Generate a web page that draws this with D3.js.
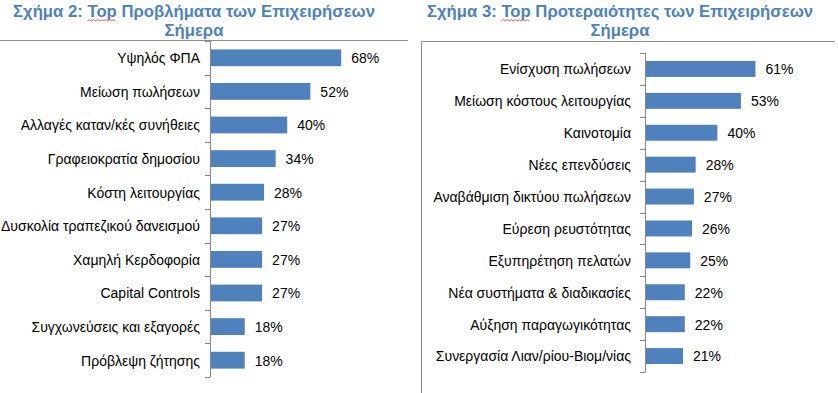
<!DOCTYPE html>
<html>
<head>
<meta charset="utf-8">
<script src="https://cdn.jsdelivr.net/npm/d3@7"></script>
<style>
  html, body { margin: 0; padding: 0; background: #fff; }
  svg { display: block; font-family: "Liberation Sans", Arial, sans-serif; }
</style>
</head>
<body>
<svg id="chart" width="838" height="393"></svg>
<script>
// ─── Data ───────────────────────────────────────────────────
const problemLabels = [
  "Υψηλός ΦΠΑ", "Μείωση πωλήσεων", "Αλλαγές καταν/κές συνήθειες",
  "Γραφειοκρατία δημοσίου", "Κόστη λειτουργίας", "Δυσκολία τραπεζικού δανεισμού",
  "Χαμηλή Κερδοφορία", "Capital Controls", "Συγχωνεύσεις και εξαγορές",
  "Πρόβλεψη ζήτησης"
];
const problemValues = [68, 52, 40, 34, 28, 27, 27, 27, 18, 18];

const priorityLabels = [
  "Ενίσχυση πωλήσεων", "Μείωση κόστους λειτουργίας", "Καινοτομία",
  "Νέες επενδύσεις", "Αναβάθμιση δικτύου πωλήσεων", "Εύρεση ρευστότητας",
  "Εξυπηρέτηση πελατών", "Νέα συστήματα & διαδικασίες", "Αύξηση παραγωγικότητας",
  "Συνεργασία Λιαν/ρίου-Βιομ/νίας"
];
const priorityValues = [61, 53, 40, 28, 27, 26, 25, 22, 22, 21];

const titleLeft  = ["Σχήμα 2: ", "Top", " Προβλήματα των Επιχειρήσεων", "Σήμερα"];
const titleRight = ["Σχήμα 3: ", "Top", " Προτεραιότητες των Επιχειρήσεων", "Σήμερα"];

// ─── Styles ────────────────────────────────────────────────
const barColor = "#4F81BD";
const titleColor = "#4F81BD";
const gridGrey = "#868686";
const frameGrey = "#8c8c8c";
const stretch = 1.1;   // label text in the picture is slightly taller than wide

const svg = d3.select("#chart");

// ─── Frames ────────────────────────────────────────────────
svg.append("line")
  .attr("x1", 0).attr("x2", 408).attr("y1", 40.5).attr("y2", 40.5)
  .attr("stroke", frameGrey).attr("stroke-width", 1);
svg.append("path")
  .attr("d", "M421.5,393 V41.5 H835")
  .attr("fill", "none").attr("stroke", frameGrey).attr("stroke-width", 1);

// ─── Titles ────────────────────────────────────────────────
function drawTitle(parts, cx) {
  const t = svg.append("text")
    .attr("x", cx).attr("y", 17)
    .attr("text-anchor", "middle")
    .attr("fill", titleColor)
    .style("font-weight", "bold")
    .style("font-size", "16.7px");
  t.append("tspan").text(parts[0]);
  t.append("tspan").text(parts[1]);
  t.append("tspan").text(parts[2]);

  // red wavy spell-check underline under "Top"
  const node = t.node();
  const start = parts[0].length;
  const x0 = node.getStartPositionOfChar(start).x;
  const w = node.getSubStringLength(start, parts[1].length);
  const pts = d3.range(0, Math.floor(w / 2) + 1).map(i => [x0 + i * 2, 20.5 + (i % 2 ? -0.8 : 0.4)]);
  svg.append("path")
    .attr("d", d3.line()(pts))
    .attr("fill", "none")
    .attr("stroke", "#e03030")
    .attr("stroke-width", 0.8);

  svg.append("text")
    .attr("x", cx).attr("y", 36)
    .attr("text-anchor", "middle")
    .attr("fill", titleColor)
    .style("font-weight", "bold")
    .style("font-size", "16.7px")
    .text(parts[3]);
}
drawTitle(titleLeft, 194);
drawTitle(titleRight, 620);

// ─── Bar chart helper ──────────────────────────────────────
function drawBars(labels, values, opt) {
  const g = svg.append("g");

  const y = d3.scaleBand()
    .domain(labels)
    .range([opt.top, opt.bottom])
    .paddingInner(0.5)
    .paddingOuter(0.25);

  const x = d3.scaleLinear()
    .domain([0, 100])
    .range([opt.axisX, opt.axisX + opt.pxPer100]);

  const data = labels.map((l, i) => ({ label: l, value: values[i] }));
  const cy = d => y(d.label) + y.bandwidth() / 2;

  // bars
  g.selectAll("rect")
    .data(data)
    .join("rect")
    .attr("x", x(0))
    .attr("y", d => y(d.label))
    .attr("width", d => x(d.value) - x(0))
    .attr("height", y.bandwidth())
    .attr("fill", barColor);

  // axis line and ticks on band edges
  g.append("line")
    .attr("x1", opt.axisX + 0.5).attr("x2", opt.axisX + 0.5)
    .attr("y1", opt.top).attr("y2", opt.bottom)
    .attr("stroke", gridGrey);
  const edges = d3.range(labels.length + 1).map(i => opt.top + i * y.step());
  g.selectAll("line.tick")
    .data(edges)
    .join("line")
    .attr("class", "tick")
    .attr("x1", opt.axisX - 5).attr("x2", opt.axisX)
    .attr("y1", d => Math.round(d) + 0.5).attr("y2", d => Math.round(d) + 0.5)
    .attr("stroke", gridGrey);

  // category labels
  g.selectAll("text.cat")
    .data(data)
    .join("text")
    .attr("class", "cat")
    .attr("transform", d => `translate(${opt.axisX - opt.labelGap},${cy(d)}) scale(1,${stretch})`)
    .attr("dy", "0.35em")
    .attr("text-anchor", "end")
    .attr("fill", "#000")
    .style("font-size", "14px")
    .text(d => d.label);

  // value labels
  g.selectAll("text.val")
    .data(data)
    .join("text")
    .attr("class", "val")
    .attr("transform", d => `translate(${x(d.value) + 10},${cy(d)}) scale(1,${stretch})`)
    .attr("dy", "0.35em")
    .attr("fill", "#000")
    .style("font-size", "14px")
    .text(d => `${d.value}%`);
}

drawBars(problemLabels, problemValues, {
  top: 41, bottom: 377, axisX: 210, pxPer100: 193, labelGap: 10
});
drawBars(priorityLabels, priorityValues, {
  top: 53, bottom: 372, axisX: 645, pxPer100: 181, labelGap: 14
});
</script>
</body>
</html>
